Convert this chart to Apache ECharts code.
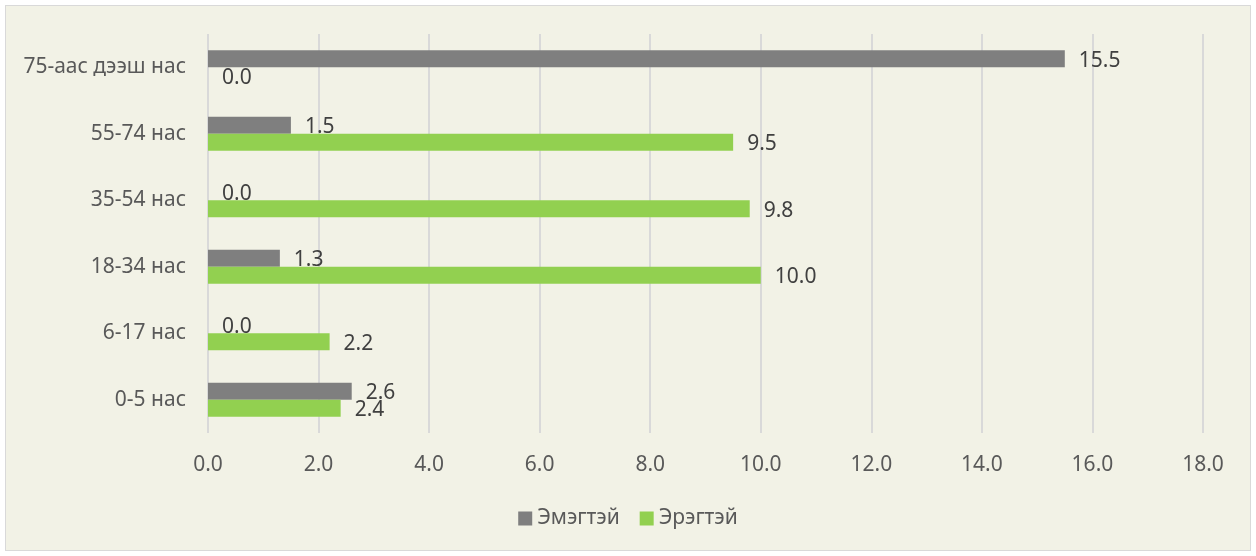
<!DOCTYPE html>
<html>
<head>
    <meta charset="utf-8">
    <title>ECharts</title>
    <script src="https://cdn.jsdelivr.net/npm/echarts@6/dist/echarts.min.js"></script>
    <style>
        html, body { margin: 0; padding: 0; background: #ffffff; }
        #main { position: absolute; left: 5px; top: 5px; width: 1244px; height: 544px;
                border: 1px solid #d9d9d9; background: #f2f2e6; }
    </style>
</head>
<body>
<div id="main"></div>
<script type="text/javascript">
    var categories = ['0-5 нас', '6-17 нас', '18-34 нас', '35-54 нас', '55-74 нас', '75-аас дээш нас'];
    var female = [2.6, 0.0, 1.3, 0.0, 1.5, 15.5];   // Эмэгтэй
    var male = [2.4, 2.2, 10.0, 9.8, 9.5, 0.0];     // Эрэгтэй

    var myChart = echarts.init(document.getElementById('main'));

    var font = '"Noto Sans", "Open Sans", sans-serif';
    var lbl = {
        show: true,
        position: 'right',
        distance: 14,
        offset: [0, 2],
        fontSize: 21,
        fontFamily: font,
        color: '#404040',
        formatter: function (p) { return p.value.toFixed(1); }
    };

    var option = {
        animation: false,
        textStyle: { fontFamily: font },
        grid: { left: 202, right: 47, top: 28, bottom: 117 },
        legend: {
            bottom: 16,
            left: 'center',
            itemWidth: 14,
            itemHeight: 14,
            itemGap: 20,
            icon: 'rect',
            data: ['Эмэгтэй', 'Эрэгтэй'],
            textStyle: { fontSize: 21, color: '#595959', fontFamily: font }
        },
        xAxis: {
            type: 'value',
            min: 0,
            max: 18,
            interval: 2,
            axisLine: { show: false },
            axisTick: { show: false },
            splitLine: { lineStyle: { color: '#d9d9d9', width: 2 } },
            axisLabel: {
                fontSize: 21,
                color: '#595959',
                margin: 22,
                formatter: function (v) { return v.toFixed(1); }
            }
        },
        yAxis: {
            type: 'category',
            data: categories,
            axisLine: { show: false },
            axisTick: { show: false },
            axisLabel: { fontSize: 21, color: '#595959', margin: 22 }
        },
        series: [
            {
                name: 'Эмэгтэй',
                type: 'bar',
                data: female,
                barWidth: 17,
                barGap: '0%',
                barCategoryGap: '50%',
                itemStyle: { color: '#7f7f7f' },
                label: lbl
            },
            {
                name: 'Эрэгтэй',
                type: 'bar',
                data: male,
                barWidth: 17,
                barGap: '0%',
                itemStyle: { color: '#92d050' },
                label: lbl
            }
        ]
    };

    myChart.setOption(option);
</script>
</body>
</html>
